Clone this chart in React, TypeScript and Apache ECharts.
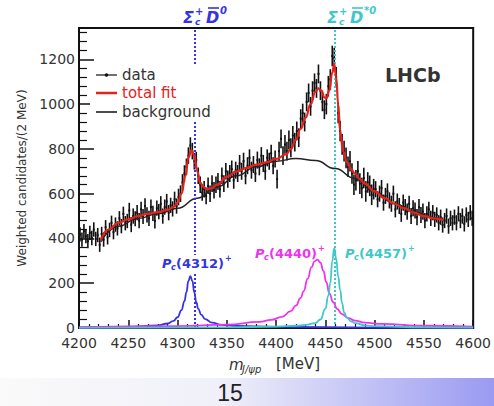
import React, { useEffect, useRef } from "react";
import * as echarts from "echarts";

// ---- Data ----
const BIN_START = 4201; // MeV, centre of first 2 MeV bin
const BIN_WIDTH = 2;
const dataValues = [
  418, 395, 432, 410, 388, 425, 402, 440, 398, 415,
  372, 420, 395, 450, 405, 438, 470, 428, 462, 445,
  490, 455, 510, 468, 478, 525, 462, 500, 488, 515,
  480, 530, 498, 545, 505, 490, 540, 512, 478, 535,
  520, 555, 500, 540, 565, 515, 548, 532, 575, 545,
  585, 600, 650, 690, 720, 770, 815, 790, 745, 750,
  680, 640, 605, 620, 590, 635, 600, 645, 615, 640,
  655, 620, 680, 645, 700, 665, 690, 710, 660, 705,
  690, 735, 700, 745, 680, 725, 760, 705, 730, 690,
  750, 720, 770, 735, 700, 760, 745, 780, 725, 755,
  665, 790, 845, 770, 820, 790, 840, 805, 860, 830,
  880, 850, 935, 960, 920, 1010, 1050, 990, 1060, 1095,
  1070, 1135, 1060, 1010, 975, 1000, 1080, 1110, 1215, 1205,
  1120, 960, 880, 820, 790, 760, 720, 745, 690, 640,
  660, 700, 645, 625, 670, 610, 650, 635, 595, 620,
  620, 575, 600, 625, 560, 590, 610, 570, 555, 600,
  530, 565, 545, 510, 560, 540, 520, 555, 500, 535,
  525, 495, 540, 505, 520, 480, 510, 530, 490, 515,
  485, 505, 470, 495, 460, 480, 500, 455, 490, 470,
  495, 470, 510, 480, 500, 465, 505, 485, 515, 490,
];
// half-length of error bars per 50 MeV block (4200-4250, ..., 4550-4600)
const errHalfByBlock = [32, 34, 37, 38, 42, 46, 36, 34];

const fitMass = [4222, 4230, 4240, 4250, 4260, 4270, 4280, 4290, 4296, 4300, 4304, 4308, 4311, 4314, 4317, 4320, 4323, 4326, 4330, 4335, 4340, 4350, 4360, 4370, 4380, 4390, 4400, 4410, 4415, 4420, 4425, 4430, 4435, 4440, 4443, 4446, 4449, 4451, 4454, 4457, 4459, 4461, 4463, 4465, 4468, 4472, 4476, 4480, 4485, 4490, 4500, 4510, 4520, 4530, 4540, 4550, 4560, 4570];
const fitValue = [390, 440, 470, 485, 500, 510, 518, 528, 540, 560, 600, 680, 760, 795, 770, 700, 650, 630, 620, 625, 640, 675, 700, 715, 730, 740, 755, 775, 800, 840, 890, 940, 1000, 1055, 1070, 1060, 1030, 1025, 1060, 1140, 1180, 1120, 1000, 880, 790, 740, 710, 690, 665, 645, 610, 580, 555, 535, 515, 500, 490, 482];

const bgMass = [4222, 4240, 4260, 4280, 4300, 4320, 4340, 4360, 4380, 4400, 4420, 4440, 4460, 4480, 4500, 4520, 4540, 4560, 4570];
const bgValue = [385, 455, 490, 510, 535, 580, 630, 680, 720, 745, 757, 748, 712, 668, 608, 556, 518, 492, 482];

const pc4312Mass = [4200, 4250, 4280, 4290, 4296, 4300, 4304, 4307, 4309, 4311, 4313, 4315, 4317, 4319, 4321, 4324, 4328, 4335, 4345, 4360, 4400, 4500, 4600];
const pc4312Value = [2, 5, 12, 20, 32, 48, 80, 120, 160, 210, 232, 210, 160, 115, 85, 60, 40, 24, 14, 9, 5, 2, 1];

const pc4440Mass = [4200, 4300, 4350, 4383, 4395, 4406, 4415, 4420, 4425, 4428, 4432, 4436, 4439, 4442, 4445, 4448, 4451, 4454, 4458, 4462, 4467, 4473, 4480, 4490, 4507, 4550, 4600];
const pc4440Value = [4, 8, 15, 27, 36, 50, 75, 100, 135, 165, 220, 272, 298, 305, 292, 255, 205, 155, 115, 85, 62, 45, 33, 24, 18, 10, 6];

const pc4457Mass = [4200, 4350, 4400, 4420, 4430, 4440, 4445, 4450, 4453, 4455, 4457, 4459, 4461, 4463, 4465, 4467, 4469, 4472, 4476, 4480, 4490, 4500, 4550, 4600];
const pc4457Value = [1, 3, 6, 10, 14, 22, 38, 85, 145, 200, 300, 357, 310, 230, 170, 110, 70, 45, 30, 22, 12, 8, 3, 2];

const thresholdSigmaD0 = 4317.7;
const thresholdSigmaDstar0 = 4459.9;

const xTicks = { min: 4200, max: 4600, interval: 50 };
const yTicks = { min: 0, max: 1340, interval: 200 };

const FONT = "DejaVu Sans";
const BLUE = "#3434e0";
const MAGENTA = "#ee33ee";
const CYAN = "#3fc8c8";
const RED = "#e8201c";

const zip = (a: number[], b: number[]) => a.map((v, i) => [v, b[i]]);

function txt(x: number, y: number, text: string, o: any = {}) {
  return {
    type: "text",
    x,
    y,
    z: 101,
    style: {
      text,
      fontFamily: o.fontFamily ?? FONT,
      fontSize: o.fontSize ?? 14,
      fontWeight: o.fontWeight ?? "normal",
      fontStyle: o.fontStyle ?? "normal",
      fill: o.fill ?? "#333",
      align: o.align ?? "left",
      verticalAlign: "middle",
    },
  };
}

function pcLabel(x: number, y: number, mass: string, color: string) {
  return [
    txt(x, y, "P", { fontSize: 13, fontWeight: "bold", fontStyle: "italic", fill: color }),
    txt(x + 9, y + 4, "c", { fontSize: 8, fontWeight: "bold", fontStyle: "italic", fill: color }),
    txt(x + 14, y, "(" + mass + ")", { fontSize: 13, fontWeight: "bold", fill: color }),
    txt(x + 63, y - 5, "+", { fontSize: 8, fontWeight: "bold", fill: color }),
  ];
}

function thresholdLabel(x: number, color: string, star: boolean) {
  return [
    txt(x, 17, "Σ", { fontSize: 16, fontWeight: "bold", fontStyle: "italic", fill: color }),
    txt(x + 12, 22, "c", { fontSize: 9, fontWeight: "bold", fontStyle: "italic", fill: color }),
    txt(x + 12, 11, "+", { fontSize: 10, fontWeight: "bold", fill: color }),
    txt(x + 23, 17, "D", { fontSize: 16, fontWeight: "bold", fontStyle: "italic", fill: color }),
    {
      type: "line",
      z: 101,
      shape: { x1: x + 25, y1: 8, x2: x + 36, y2: 8 },
      style: { stroke: color, lineWidth: 1.6 },
    },
    txt(x + 37, 10, star ? "*0" : "0", { fontSize: 10, fontWeight: "bold", fontStyle: "italic", fill: color }),
  ];
}

export default function App() {
  const ref = useRef<HTMLDivElement>(null);
  useEffect(() => {
    if (!ref.current) return;
    const chart = echarts.init(ref.current, undefined, { renderer: "svg" });
    const dataPts = dataValues.map((v, i) => {
      const m = BIN_START + i * BIN_WIDTH;
      return [m, v, errHalfByBlock[Math.floor((m - 4200) / 50)]];
    });

    const option: any = {
      animation: false,
      backgroundColor: "#fff",
      grid: {
        left: 79,
        right: 17,
        top: 28,
        bottom: 78,
        show: true,
        borderColor: "#111",
        borderWidth: 2,
        backgroundColor: "transparent",
      },
      xAxis: {
        type: "value",
        min: xTicks.min,
        max: xTicks.max,
        interval: xTicks.interval,
        axisLine: { lineStyle: { color: "#111", width: 2 } },
        axisTick: { inside: true, length: 8, lineStyle: { color: "#111", width: 1.5 } },
        minorTick: { show: true, splitNumber: 5, length: 4, lineStyle: { color: "#111", width: 1.2 } },
        axisLabel: { fontFamily: FONT, fontSize: 14, color: "#333", margin: 8, formatter: (v: number) => String(v) },
        splitLine: { show: false },
      },
      yAxis: {
        type: "value",
        min: yTicks.min,
        max: yTicks.max,
        interval: yTicks.interval,
        name: "Weighted candidates/(2 MeV)",
        nameLocation: "middle",
        nameGap: 46,
        nameRotate: 90,
        nameTextStyle: { fontFamily: FONT, fontSize: 12, color: "#333" },
        axisLine: { lineStyle: { color: "#111", width: 2 } },
        axisTick: { inside: true, length: 15, lineStyle: { color: "#111", width: 1.5 } },
        minorTick: { show: true, splitNumber: 5, length: 8, lineStyle: { color: "#111", width: 1.2 } },
        axisLabel: { fontFamily: FONT, fontSize: 14, color: "#333", margin: 4, showMaxLabel: false, formatter: (v: number) => String(v) },
        splitLine: { show: false },
      },
      series: [
        {
          name: "data",
          type: "custom",
          data: dataPts,
          encode: { x: 0, y: 1 },
          z: 3,
          renderItem: (params: any, api: any) => {
            const x = api.value(0);
            const v = api.value(1);
            const e = api.value(2);
            const top = api.coord([x, v + e]);
            const bot = api.coord([x, v - e]);
            const c = api.coord([x, v]);
            const hw = api.size([1, 0])[0];
            return {
              type: "group",
              children: [
                { type: "line", shape: { x1: top[0], y1: top[1], x2: bot[0], y2: bot[1] }, style: { stroke: "#111", lineWidth: 1.6 } },
                { type: "line", shape: { x1: c[0] - hw, y1: c[1], x2: c[0] + hw, y2: c[1] }, style: { stroke: "#111", lineWidth: 2 } },
              ],
            };
          },
        },
        {
          name: "background",
          type: "line",
          data: zip(bgMass, bgValue),
          showSymbol: false,
          smooth: true,
          smoothMonotone: "x",
          lineStyle: { color: "#222", width: 1.5 },
          z: 4,
        },
        {
          name: "total fit",
          type: "line",
          data: zip(fitMass, fitValue),
          showSymbol: false,
          smooth: true,
          smoothMonotone: "x",
          lineStyle: { color: RED, width: 2.2 },
          z: 5,
        },
        {
          name: "Pc(4312)+",
          type: "line",
          data: zip(pc4312Mass, pc4312Value),
          showSymbol: false,
          smooth: true,
          smoothMonotone: "x",
          lineStyle: { color: BLUE, width: 1.8 },
          z: 5,
          markLine: {
            silent: true,
            symbol: "none",
            label: { show: false },
            lineStyle: { color: BLUE, type: "dotted", width: 2 },
            data: [{ xAxis: thresholdSigmaD0 }],
          },
        },
        {
          name: "Pc(4440)+",
          type: "line",
          data: zip(pc4440Mass, pc4440Value),
          showSymbol: false,
          smooth: true,
          smoothMonotone: "x",
          lineStyle: { color: MAGENTA, width: 1.8 },
          z: 5,
        },
        {
          name: "Pc(4457)+",
          type: "line",
          data: zip(pc4457Mass, pc4457Value),
          showSymbol: false,
          smooth: true,
          smoothMonotone: "x",
          lineStyle: { color: CYAN, width: 1.8 },
          z: 5,
          markLine: {
            silent: true,
            symbol: "none",
            label: { show: false },
            lineStyle: { color: CYAN, type: "dotted", width: 2 },
            data: [{ xAxis: thresholdSigmaDstar0 }],
          },
        },
      ],
      graphic: [
        // slide footer band
        {
          type: "rect",
          z: 90,
          shape: { x: 0, y: 378, width: 494, height: 28 },
          style: {
            fill: new echarts.graphic.LinearGradient(0, 0, 1, 0, [
              { offset: 0, color: "#fafafa" },
              { offset: 0.45, color: "#f0f0fa" },
              { offset: 1, color: "#9a9af2" },
            ]),
          },
        },
        txt(230, 393, "15", { fontFamily: "Liberation Sans", fontSize: 23, fill: "#222", align: "center" }),
        // legend
        { type: "rect", z: 100, shape: { x: 90, y: 64, width: 130, height: 58 }, style: { fill: "#fff" } },
        { type: "line", z: 101, shape: { x1: 96, y1: 75, x2: 117, y2: 75 }, style: { stroke: "#111", lineWidth: 1.2 } },
        { type: "circle", z: 101, shape: { cx: 106.5, cy: 75, r: 1.8 }, style: { fill: "#111" } },
        txt(122, 75, "data", { fontSize: 15 }),
        { type: "line", z: 101, shape: { x1: 96, y1: 93, x2: 117, y2: 93 }, style: { stroke: RED, lineWidth: 2.5 } },
        txt(122, 93, "total fit", { fontSize: 15, fill: RED }),
        { type: "line", z: 101, shape: { x1: 96, y1: 112, x2: 117, y2: 112 }, style: { stroke: "#111", lineWidth: 1.5 } },
        txt(122, 112, "background", { fontSize: 15 }),
        // LHCb
        txt(385, 75, "LHCb", { fontSize: 19, fontWeight: "bold", fill: "#333" }),
        // threshold labels
        ...thresholdLabel(183, BLUE, false),
        ...thresholdLabel(327, CYAN, true),
        // Pc labels
        { type: "rect", z: 100, shape: { x: 160, y: 255, width: 73, height: 17 }, style: { fill: "#fff" } },
        ...pcLabel(162, 263, "4312", BLUE),
        ...pcLabel(255, 253, "4440", MAGENTA),
        ...pcLabel(345, 253, "4457", CYAN),
        // x axis title
        txt(229, 365, "m", { fontSize: 15, fontStyle: "italic" }),
        txt(242, 369, "J/ψp", { fontSize: 10, fontStyle: "italic" }),
        txt(276, 364, "[MeV]", { fontSize: 15 }),
      ],
    };
    chart.setOption(option);
    return () => chart.dispose();
  }, []);
  return (
    <div
      ref={ref}
      style={{ position: "fixed", left: 0, top: 0, width: 494, height: 406, background: "#fff" }}
    />
  );
}
